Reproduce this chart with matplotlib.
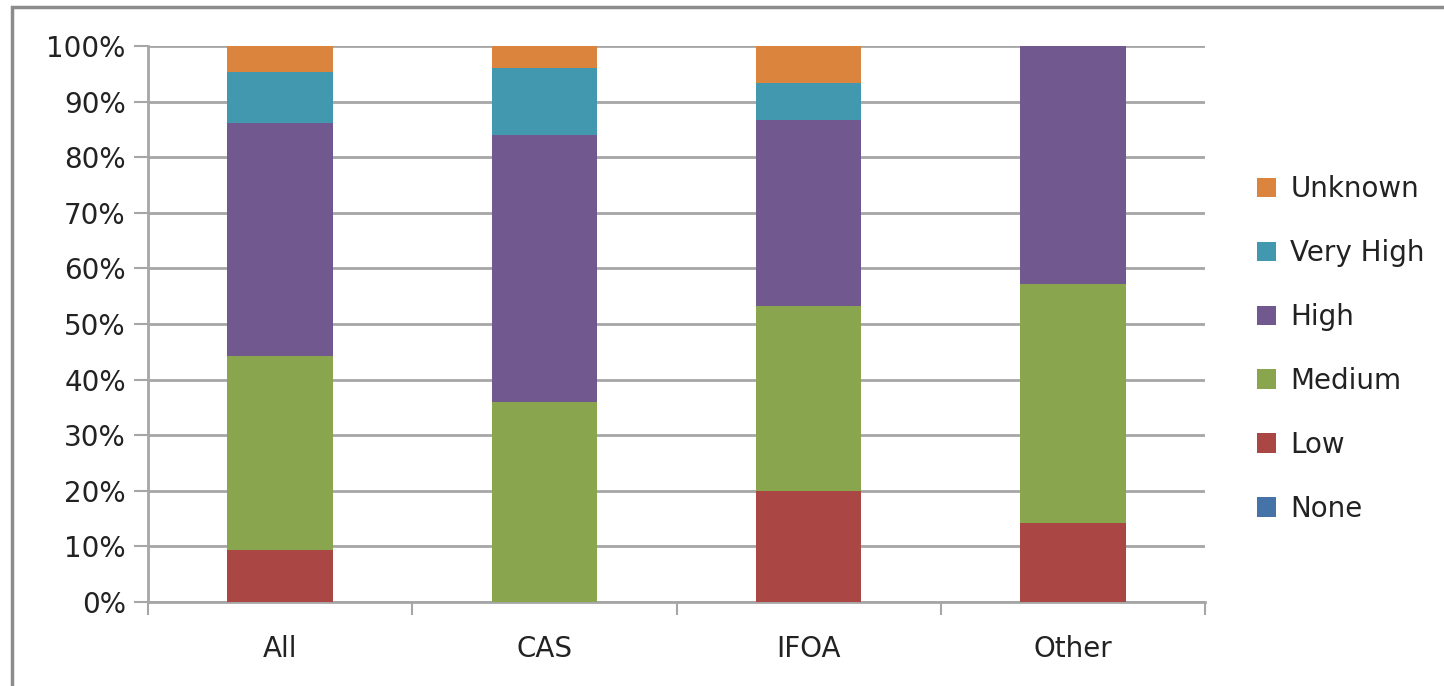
import numpy as np
import matplotlib.pyplot as plt
from matplotlib.patches import Rectangle
from matplotlib.ticker import FixedLocator, PercentFormatter

plt.rcParams['font.family'] = ['DejaVu Sans']

groups = ['All', 'CAS', 'IFOA', 'Other']
levels = ['None', 'Low', 'Medium', 'High', 'Very High', 'Unknown']
colors = ['#4572A7', '#AA4643', '#89A54E', '#71588F', '#4198AF', '#DB843D']

# percent of each group
none_pct = [0.0, 0.0, 0.0, 0.0]
low_pct = [9.3, 0.0, 20.0, 14.3]
medium_pct = [34.9, 36.0, 33.3, 42.9]
high_pct = [41.9, 48.0, 33.3, 42.8]
veryhigh_pct = [9.3, 12.0, 6.7, 0.0]
unknown_pct = [4.6, 4.0, 6.7, 0.0]

series = [none_pct, low_pct, medium_pct, high_pct, veryhigh_pct, unknown_pct]

fig = plt.figure(figsize=(14.44, 6.86), dpi=100)
ax = fig.add_axes([0.1025, 0.1224, 0.732, 0.8106])

x = np.arange(len(groups))
bottom = np.zeros(len(groups))
handles = []
for lab, vals, col in zip(levels, series, colors):
    b = ax.bar(x, vals, 0.4, bottom=bottom, color=col, label=lab, zorder=3)
    handles.append(b)
    bottom += np.array(vals)

ax.set_xlim(-0.5, 3.5)
ax.set_ylim(0, 100)
ax.yaxis.set_major_locator(FixedLocator(np.arange(0, 101, 10)))
ax.yaxis.set_major_formatter(PercentFormatter(decimals=0))
ax.grid(axis='y', color='#A6A6A6', lw=2, zorder=0)

for s in ['top', 'right']:
    ax.spines[s].set_visible(False)
for s in ['left', 'bottom']:
    ax.spines[s].set_color('#A6A6A6')
    ax.spines[s].set_linewidth(2)

ax.set_xticks(x)
ax.set_xticklabels(groups)
ax.set_xticks([-0.5, 0.5, 1.5, 2.5, 3.5], minor=True)
ax.tick_params(axis='x', which='major', length=0, pad=24, labelsize=20, labelcolor='#222222')
ax.tick_params(axis='x', which='minor', length=9, width=1.5, color='#A6A6A6')
ax.tick_params(axis='y', length=10, width=1.5, color='#A6A6A6', pad=6, labelsize=20, labelcolor='#222222')

leg = ax.legend(handles[::-1], levels[::-1], loc='center left', bbox_to_anchor=(1.0255, 0.455),
                frameon=False, fontsize=20, handlelength=0.7, handleheight=0.7,
                handletextpad=0.5, labelspacing=1.29)
for t in leg.get_texts():
    t.set_color('#222222')

# outer chart frame, open on the right and bottom like the source
fig.patches.append(Rectangle((12 / 1444, -0.05), 1.0, 1.05 - 7 / 686,
                             transform=fig.transFigure, fill=False,
                             edgecolor='#8C8C8C', lw=2.5))

fig.savefig('out.png', dpi=100)
